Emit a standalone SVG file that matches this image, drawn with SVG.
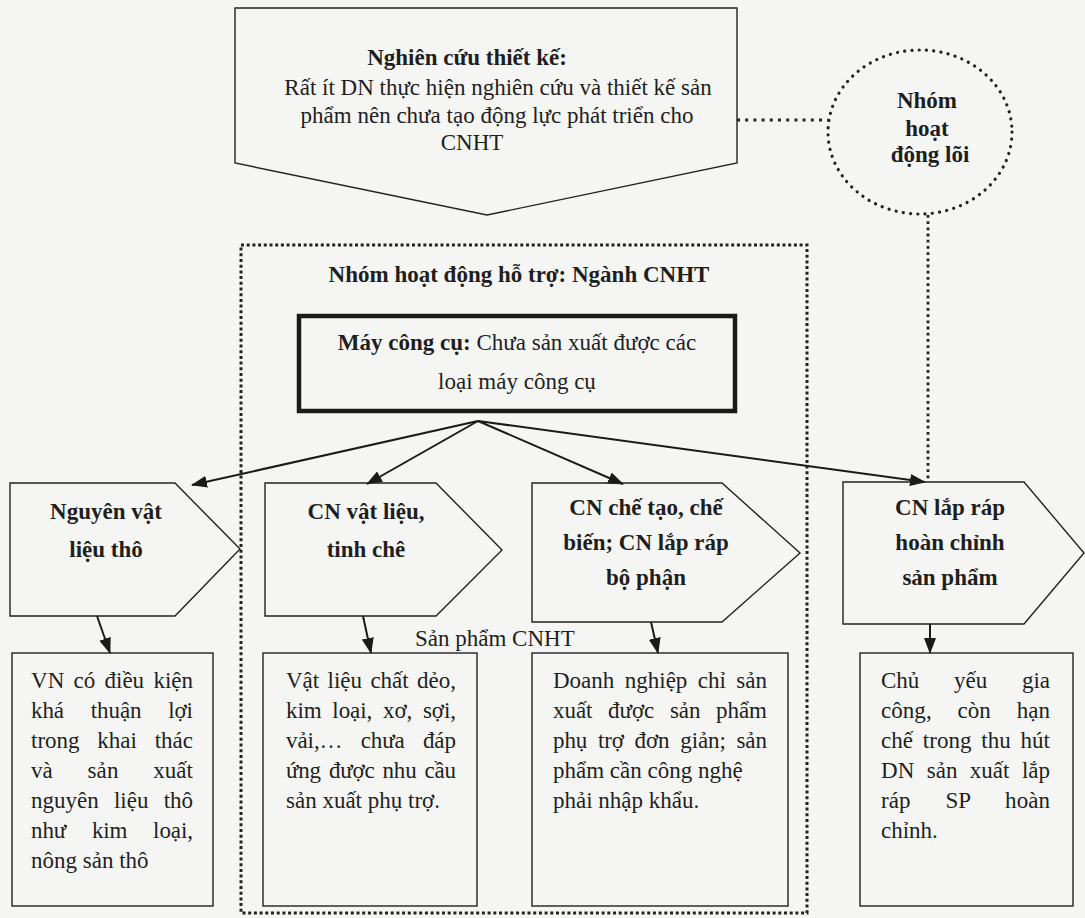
<svg xmlns="http://www.w3.org/2000/svg" width="1085" height="918" viewBox="0 0 1085 918">
<defs>
<style>
.t{font-family:"Liberation Serif","Times New Roman",serif;font-size:23px;fill:#1e1e1e}
.b{font-weight:bold}
.m{text-anchor:middle}
.shape{fill:none;stroke:#222;stroke-width:1.4;stroke-linejoin:miter}
.thick{fill:none;stroke:#1a1a1a;stroke-width:4.5}
.dotbox{fill:none;stroke:#222;stroke-width:3;stroke-dasharray:3 2.7}
.dotline{fill:none;stroke:#222;stroke-width:2.8;stroke-dasharray:2.8 3.4}
.dotcirc{fill:none;stroke:#222;stroke-width:3.2;stroke-dasharray:0.1 7.2;stroke-linecap:round}
.conn{fill:none;stroke:#1a1a1a;stroke-width:2;marker-end:url(#ah)}
</style>
<marker id="ah" viewBox="0 0 16 12" refX="15" refY="6" markerWidth="16" markerHeight="12" markerUnits="userSpaceOnUse" orient="auto">
<path d="M0,0 L16,6 L0,12 z" fill="#1a1a1a"/>
</marker>
</defs>
<rect x="0" y="0" width="1085" height="918" fill="#f5f6f4"/>

<g id="connectors">
<line class="dotline" x1="737" y1="120" x2="828" y2="120" style="stroke-dasharray:3 5.2"/>
<line class="dotline" x1="928" y1="215" x2="928" y2="481"/>
<line class="conn" x1="478" y1="421" x2="192" y2="485"/>
<line class="conn" x1="478" y1="421" x2="367" y2="484"/>
<line class="conn" x1="478" y1="421" x2="623" y2="484"/>
<line class="conn" x1="478" y1="421" x2="925" y2="482"/>
<line class="conn" x1="97" y1="616" x2="110" y2="653"/>
<line class="conn" x1="363" y1="616" x2="371" y2="653"/>
<line class="conn" x1="651" y1="622" x2="658" y2="653"/>
<line class="conn" x1="930" y1="624" x2="930" y2="653"/>
</g>

<g id="nghien-cuu">
<path class="shape" d="M235,8 H737 V163 L487,215 L235,163 Z"/>
<text class="t b m" x="467" y="65">Nghiên cứu thiết kế:</text>
<text class="t m" x="498" y="95">Rất ít DN thực hiện nghiên cứu và thiết kế sản</text>
<text class="t m" x="497" y="123">phẩm nên chưa tạo động lực phát triển cho</text>
<text class="t m" x="472" y="150">CNHT</text>
</g>

<g id="nhom-loi">
<ellipse class="dotcirc" cx="920" cy="132" rx="92" ry="82"/>
<text class="t b m" x="927" y="108">Nhóm</text>
<text class="t b m" x="927" y="136">hoạt</text>
<text class="t b m" x="930" y="162">động lõi</text>
</g>

<g id="nhom-ho-tro">
<rect class="dotbox" x="241" y="245" width="566" height="668"/>
<text class="t b m" x="519" y="282">Nhóm hoạt động hỗ trợ: Ngành CNHT</text>
<text class="t" x="415" y="646">Sản phẩm CNHT</text>
</g>

<g id="may-cong-cu">
<rect class="thick" x="299" y="316" width="436" height="95"/>
<text class="t m" x="517" y="350"><tspan class="b">Máy công cụ:</tspan> Chưa sản xuất được các</text>
<text class="t m" x="517" y="389">loại máy công cụ</text>
</g>

<g id="nguyen-vat-lieu">
<path class="shape" d="M10,483 H175 L240,549 L175,616 H10 Z"/>
<text class="t b m" x="106" y="519">Nguyên vật</text>
<text class="t b m" x="106" y="557">liệu thô</text>
</g>

<g id="cn-vat-lieu">
<path class="shape" d="M265,483 H436 L502,550 L436,616 H265 Z"/>
<text class="t b m" x="366" y="519">CN vật liệu,</text>
<text class="t b m" x="366" y="557">tinh chê</text>
</g>

<g id="cn-che-tao">
<path class="shape" d="M532,483 H722 L800,553 L722,622 H532 Z"/>
<text class="t b m" x="646" y="515">CN chế tạo, chế</text>
<text class="t b m" x="646" y="550">biến; CN lắp ráp</text>
<text class="t b m" x="646" y="585">bộ phận</text>
</g>

<g id="cn-lap-rap">
<path class="shape" d="M843,482 H1024 L1084,553 L1024,624 H843 Z"/>
<text class="t b m" x="950" y="515">CN lắp ráp</text>
<text class="t b m" x="950" y="550">hoàn chỉnh</text>
<text class="t b m" x="950" y="585">sản phẩm</text>
</g>

<g id="box-nguyen-lieu">
<rect class="shape" x="12" y="653" width="201" height="253"/>
<text class="t" x="31" y="688" textLength="162" lengthAdjust="spacing" style="word-spacing:3.5px">VN có điều kiện</text>
<text class="t" x="31" y="718" textLength="162" lengthAdjust="spacing" style="word-spacing:21px">khá thuận lợi</text>
<text class="t" x="31" y="748" textLength="162" lengthAdjust="spacing" style="word-spacing:12px">trong khai thác</text>
<text class="t" x="31" y="778" textLength="162" lengthAdjust="spacing" style="word-spacing:29px">và sản xuất</text>
<text class="t" x="31" y="808" textLength="162" lengthAdjust="spacing" style="word-spacing:9.5px">nguyên liệu thô</text>
<text class="t" x="31" y="838" textLength="162" lengthAdjust="spacing" style="word-spacing:20px">như kim loại,</text>
<text class="t" x="31" y="868">nông sản thô</text>
</g>

<g id="box-vat-lieu">
<rect class="shape" x="263" y="653" width="214" height="253"/>
<text class="t" x="286" y="688" textLength="170" lengthAdjust="spacing" style="word-spacing:2.6px">Vật liệu chất dẻo,</text>
<text class="t" x="286" y="718" textLength="170" lengthAdjust="spacing" style="word-spacing:5px">kim loại, xơ, sợi,</text>
<text class="t" x="286" y="748" textLength="170" lengthAdjust="spacing" style="word-spacing:12.5px">vải,… chưa đáp</text>
<text class="t" x="286" y="778" textLength="170" lengthAdjust="spacing" style="word-spacing:2.4px">ứng được nhu cầu</text>
<text class="t" x="286" y="808">sản xuất phụ trợ.</text>
</g>

<g id="box-che-tao">
<rect class="shape" x="532" y="653" width="256" height="253"/>
<text class="t" x="553" y="688" textLength="214" lengthAdjust="spacing" style="word-spacing:4.7px">Doanh nghiệp chỉ sản</text>
<text class="t" x="553" y="718" textLength="214" lengthAdjust="spacing" style="word-spacing:10px">xuất được sản phẩm</text>
<text class="t" x="553" y="748" textLength="214" lengthAdjust="spacing" style="word-spacing:5px">phụ trợ đơn giản; sản</text>
<text class="t" x="553" y="778">phẩm cần công nghệ</text>
<text class="t" x="553" y="808">phải nhập khẩu.</text>
</g>

<g id="box-lap-rap">
<rect class="shape" x="860" y="653" width="213" height="253"/>
<text class="t" x="881" y="688" textLength="169" lengthAdjust="spacing" style="word-spacing:29px">Chủ yếu gia</text>
<text class="t" x="881" y="718" textLength="169" lengthAdjust="spacing" style="word-spacing:20px">công, còn hạn</text>
<text class="t" x="881" y="748" textLength="169" lengthAdjust="spacing" style="word-spacing:4px">chế trong thu hút</text>
<text class="t" x="881" y="778" textLength="169" lengthAdjust="spacing" style="word-spacing:6.7px">DN sản xuất lắp</text>
<text class="t" x="881" y="808" textLength="169" lengthAdjust="spacing" style="word-spacing:29px">ráp SP hoàn</text>
<text class="t" x="881" y="838">chỉnh.</text>
</g>
</svg>
